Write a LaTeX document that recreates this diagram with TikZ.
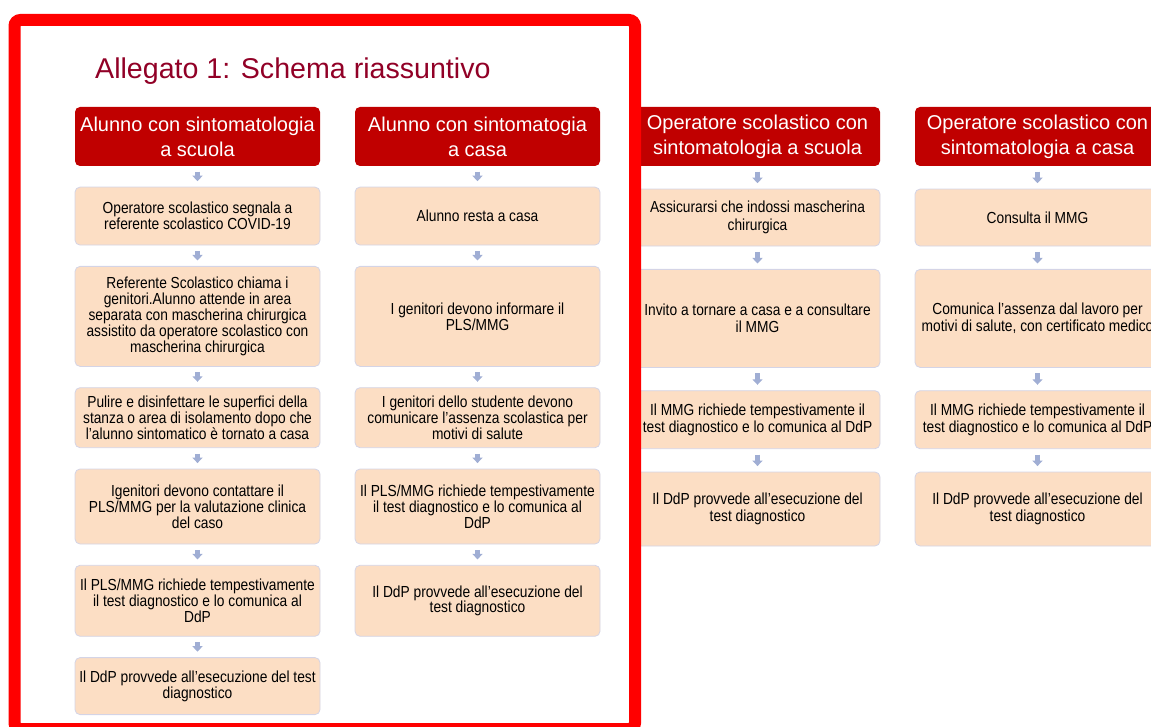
\documentclass[tikz,border=0pt]{standalone}
\usepackage{fontspec}
\setmainfont{Liberation Sans}
\newfontfamily\narrowsans[FakeStretch=0.86]{Liberation Sans}
\usetikzlibrary{positioning,arrows.meta}
\definecolor{headred}{RGB}{192,0,0}
\definecolor{titlered}{RGB}{145,0,38}
\definecolor{peach}{RGB}{252,222,196}
\definecolor{boxline}{RGB}{212,212,230}
\definecolor{arrowblue}{RGB}{160,174,212}

\begin{document}
\begin{tikzpicture}[x=1pt, y=-1pt,
    head/.style = {fill=headred, text=white, rounded corners=5pt, minimum width=245pt, minimum height=59pt, inner sep=2pt, align=center, font=\fontsize{20}{25}\selectfont},
    stepbox/.style = {draw=boxline, line width=0.8pt, fill=peach, rounded corners=5pt, minimum width=245pt, inner sep=2pt, align=center, font=\narrowsans\fontsize{16}{15.8}\selectfont},
    stepwide/.style = {stepbox, font=\narrowsans\fontsize{16}{17.5}\selectfont},
    flow/.style = {arrowblue, line width=4.5pt, -{Triangle[width=10pt,length=5.5pt]}, shorten <=5.5pt, shorten >=5.5pt},
    node distance={20.5pt}]
        \useasboundingbox (0,0) rectangle (1151,727);
        \clip (0,0) rectangle (1151,727);
        \node[font=\fontsize{28.6}{34}\selectfont, text=titlered, anchor=base west, inner sep=0pt] (title) at (95,79) {Allegato 1: Schema riassuntivo};
        % alunno a scuola
        \node[head] (h1) at (197.5,136.5) {Alunno con sintomatologia\\a scuola};
        \node[stepbox, minimum height=58pt] (a1) [below=of h1] {Operatore scolastico segnala a\\referente scolastico COVID-19};
        \node[stepbox, minimum height=100pt] (a2) [below=of a1] {Referente Scolastico chiama i\\genitori.Alunno attende in area\\separata con mascherina chirurgica\\assistito da operatore scolastico con\\mascherina chirurgica};
        \node[stepbox, minimum height=60pt] (a3) [below=of a2] {Pulire e disinfettare le superfici della\\stanza o area di isolamento dopo che\\l’alunno sintomatico è tornato a casa};
        \node[stepbox, minimum height=75pt] (a4) [below=of a3] {Igenitori devono contattare il\\PLS/MMG per la valutazione clinica\\del caso};
        \node[stepbox, minimum height=71pt] (a5) [below=of a4] {Il PLS/MMG richiede tempestivamente\\il test diagnostico e lo comunica al\\DdP};
        \node[stepbox, minimum height=57pt] (a6) [below=of a5] {Il DdP provvede all’esecuzione del test\\diagnostico};
        % alunno a casa
        \node[head] (h2) at (477.5,136.5) {Alunno con sintomatogia\\a casa};
        \node[stepbox, minimum height=58pt] (b1) [below=of h2] {Alunno resta a casa};
        \node[stepbox, minimum height=100pt] (b2) [below=of b1] {I genitori devono informare il\\PLS/MMG};
        \node[stepbox, minimum height=60pt] (b3) [below=of b2] {I genitori dello studente devono\\comunicare l’assenza scolastica per\\motivi di salute};
        \node[stepbox, minimum height=75pt] (b4) [below=of b3] {Il PLS/MMG richiede tempestivamente\\il test diagnostico e lo comunica al\\DdP};
        \node[stepbox, minimum height=71pt] (b5) [below=of b4] {Il DdP provvede all’esecuzione del\\test diagnostico};
        % operatore a scuola
        \node[head] (h3) at (757.5,136.5) {Operatore scolastico con\\sintomatologia a scuola};
        \node[stepwide, minimum height=57pt] (c1) [below=22.5pt of h3] {Assicurarsi che indossi mascherina\\chirurgica};
        \node[stepwide, minimum height=98pt] (c2) [below=22.5pt of c1] {Invito a tornare a casa e a consultare\\il MMG};
        \node[stepwide, minimum height=58pt] (c3) [below=22.5pt of c2] {Il MMG richiede tempestivamente il\\test diagnostico e lo comunica al DdP};
        \node[stepwide, minimum height=74pt] (c4) [below=22.5pt of c3] {Il DdP provvede all’esecuzione del\\test diagnostico};
        % operatore a casa
        \node[head] (h4) at (1037.5,136.5) {Operatore scolastico con\\sintomatologia a casa};
        \node[stepwide, minimum height=57pt] (d1) [below=22.5pt of h4] {Consulta il MMG};
        \node[stepwide, minimum height=98pt] (d2) [below=22.5pt of d1] {Comunica l’assenza dal lavoro per\\motivi di salute, con certificato medico};
        \node[stepwide, minimum height=58pt] (d3) [below=22.5pt of d2] {Il MMG richiede tempestivamente il\\test diagnostico e lo comunica al DdP};
        \node[stepwide, minimum height=74pt] (d4) [below=22.5pt of d3] {Il DdP provvede all’esecuzione del\\test diagnostico};
        \draw[flow] (h1) -- (a1);
        \draw[flow] (a1) -- (a2);
        \draw[flow] (a2) -- (a3);
        \draw[flow] (a3) -- (a4);
        \draw[flow] (a4) -- (a5);
        \draw[flow] (a5) -- (a6);
        \draw[flow] (h2) -- (b1);
        \draw[flow] (b1) -- (b2);
        \draw[flow] (b2) -- (b3);
        \draw[flow] (b3) -- (b4);
        \draw[flow] (b4) -- (b5);
        \draw[flow] (h3) -- (c1);
        \draw[flow] (c1) -- (c2);
        \draw[flow] (c2) -- (c3);
        \draw[flow] (c3) -- (c4);
        \draw[flow] (h4) -- (d1);
        \draw[flow] (d1) -- (d2);
        \draw[flow] (d2) -- (d3);
        \draw[flow] (d3) -- (d4);
        % red frame
        \draw[red, line width=12pt, rounded corners=6pt] (14.5,20) rectangle (635,729);
    \end{tikzpicture}
\end{document}
